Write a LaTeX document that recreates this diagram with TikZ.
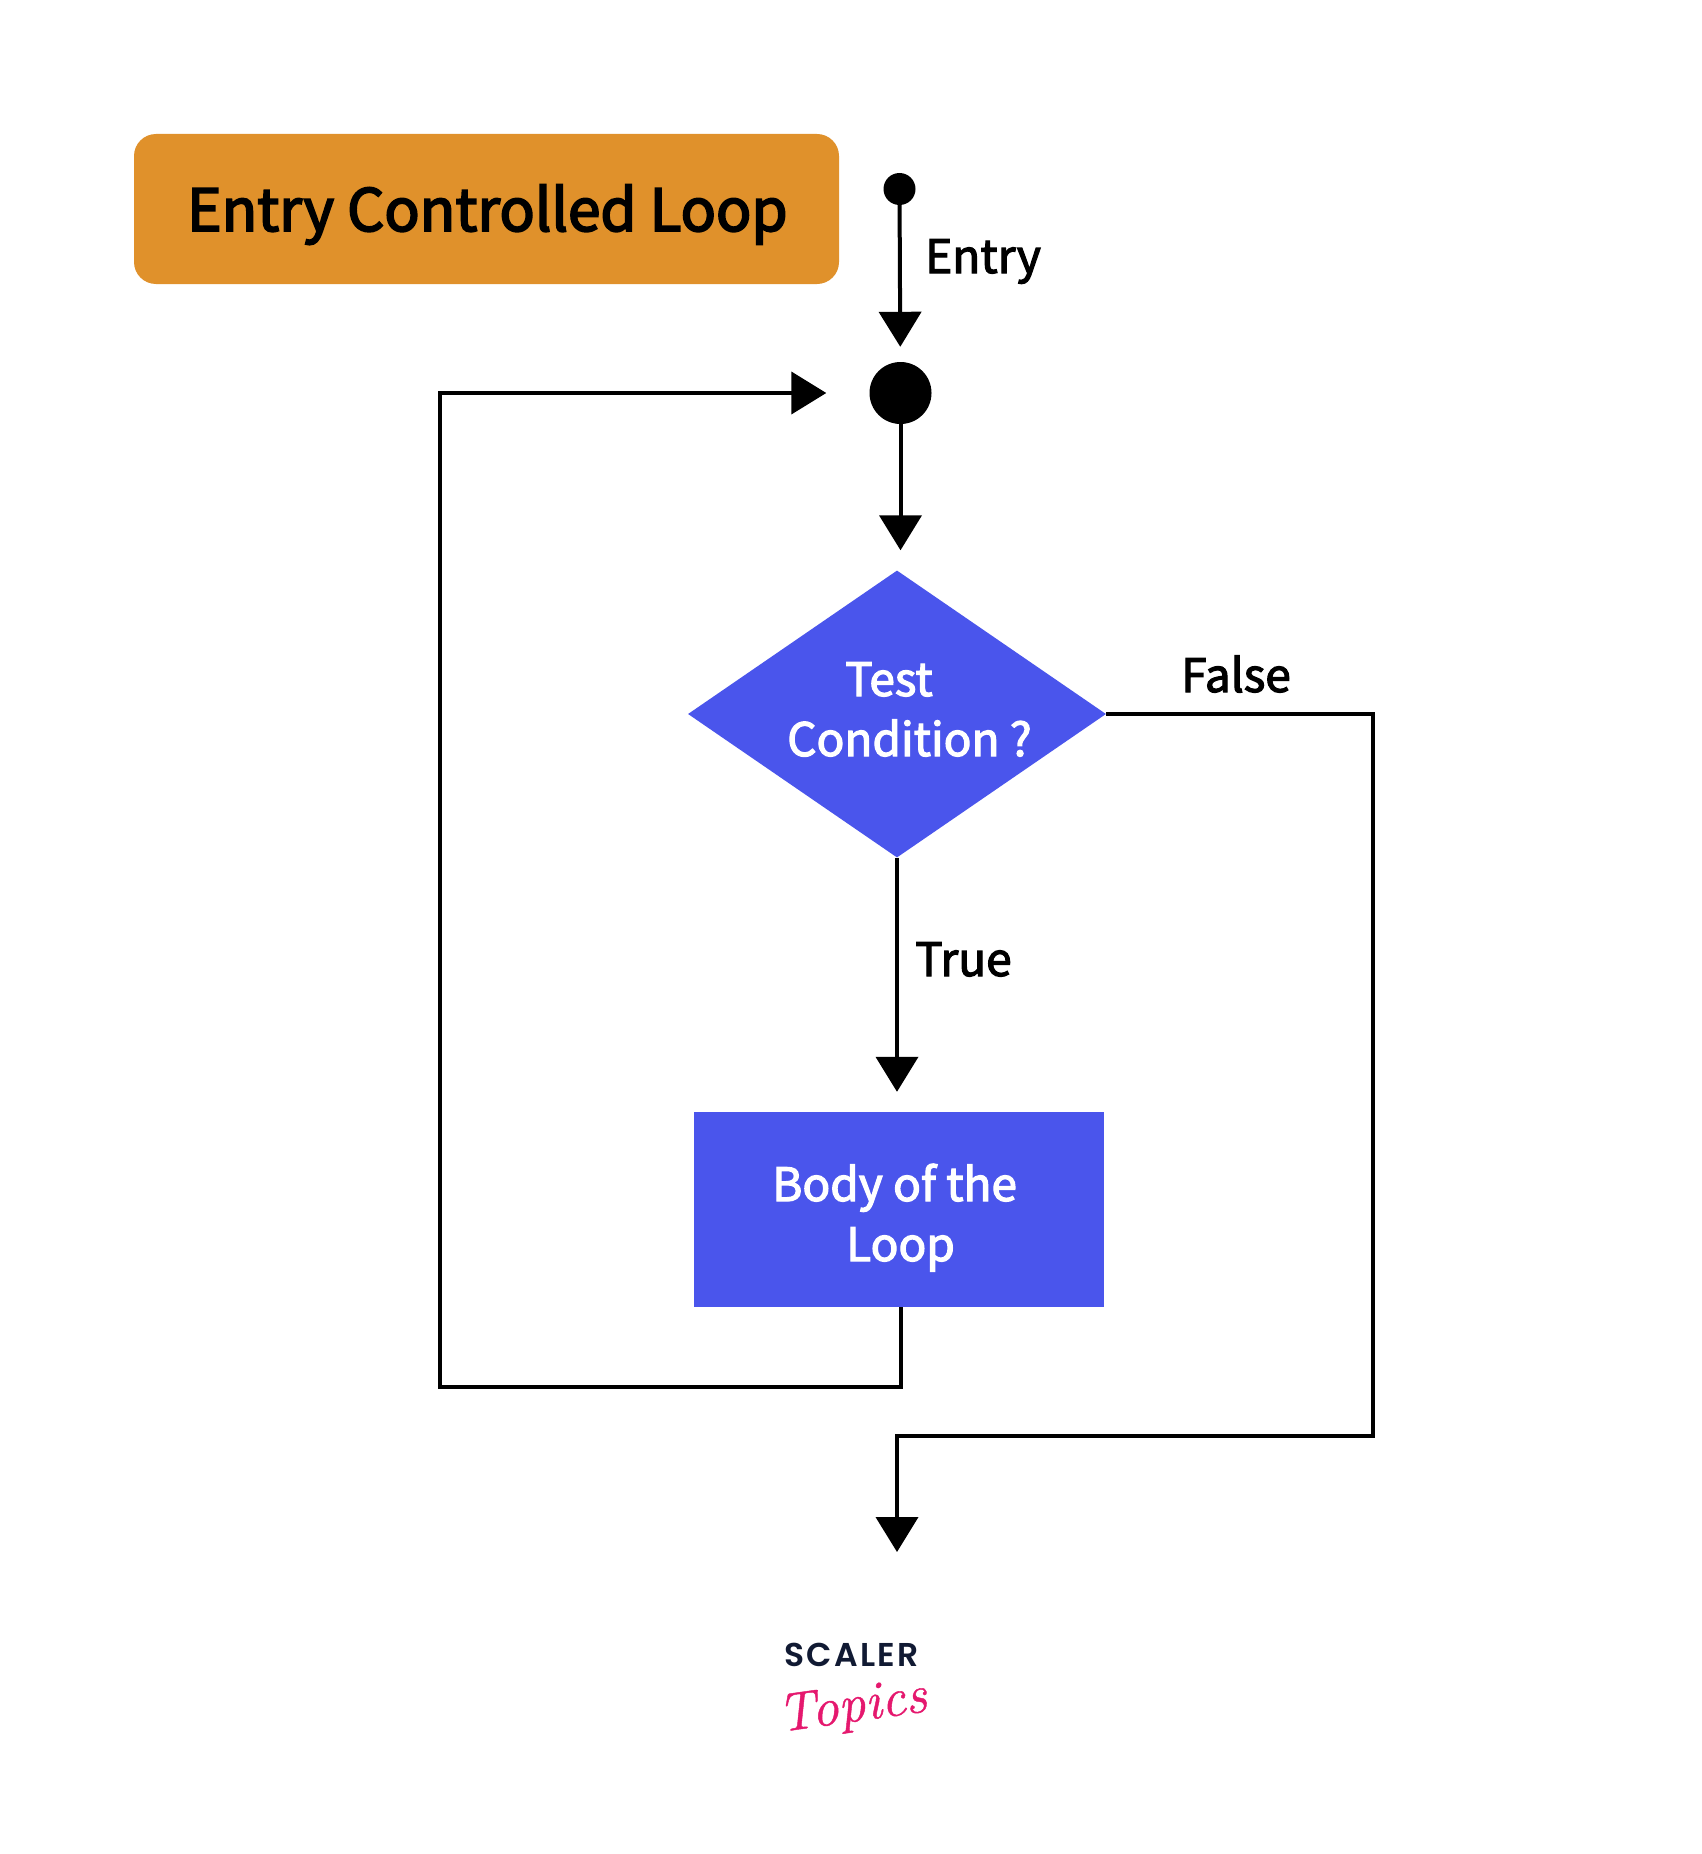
\documentclass[tikz,border=0pt]{standalone}
\usepackage{fontspec}
\usetikzlibrary{shapes.geometric,arrows.meta}
\setmainfont{Noto Sans CJK SC}[FakeBold=2.6]
\newfontfamily\titlefont{Noto Sans CJK SC}[FakeBold=3.2]
\newfontfamily\logofont{Poppins}[BoldFont=Poppins SemiBold,LetterSpace=7]
\newfontfamily\handfont{Latin Modern Roman}[FakeBold=0.8,ItalicFeatures={FakeBold=0.8}]
\definecolor{boxorange}{HTML}{E0912B}
\definecolor{flowblue}{HTML}{4A55EC}
\definecolor{logonavy}{HTML}{111A33}
\definecolor{logopink}{HTML}{E5186E}
\tikzset{
  conn/.style={line width=4pt,draw=black},
  arrowed/.style={conn,line join=miter,-{Triangle[length=35pt,width=42pt]}},
  dot/.style={circle,fill=black,inner sep=0pt},
  lbl/.style={anchor=base west,inner sep=0pt,font=\fontsize{46}{46}\selectfont},
  wlbl/.style={lbl,text=white},
}
\begin{document}
\begin{tikzpicture}[x=1pt,y=-1pt]
\useasboundingbox (0,0) rectangle (1701,1854);
\fill[white] (0,0) rectangle (1701,1854);
\node[draw=none,fill=boxorange,rounded corners=22pt,minimum width=705pt,minimum height=150pt,inner sep=0pt] (title) at (486.5,209) {};
\node[anchor=base west,inner sep=0pt,font=\titlefont\fontsize{58.4}{60}\selectfont] (titletext) at (187,231) {Entry Controlled Loop};
\node[dot,minimum size=32pt] (d1) at (899.5,189) {};
\node[dot,minimum size=62pt] (d2) at (900.5,393) {};
\node[diamond,fill=flowblue,inner sep=0pt,shape aspect=1.456,minimum width=418pt,minimum height=287pt] (test) at (897,714) {};
\node[fill=flowblue,inner sep=0pt,minimum width=410pt,minimum height=195pt] (body) at (899,1209.5) {};
\node[wlbl] (t1) at (845,696) {Test};
\node[wlbl] (t2) at (787,756) {Condition ?};
\node[wlbl] (b1) at (772,1201) {Body of the};
\node[wlbl] (b2) at (846,1261) {Loop};
\node[lbl] (entry) at (925,273) {Entry};
\node[lbl] (false) at (1181,692) {False};
\node[lbl] (true) at (915,976) {True};
\coordinate (fr) at (1373,714);
\coordinate (frd) at (1373,1436);
\coordinate (exit) at (897,1552);
\coordinate (la) at (900.5,1387);
\coordinate (lb) at (440,1387);
\coordinate (lc) at (440,393);
\draw[arrowed,shorten >=15pt] (d1) -- (d2);
\draw[arrowed,shorten >=20pt] (d2) -- (d2 |- test.north);
\draw[arrowed,shorten >=20pt] (test.south) -- (test.south |- body.north);
\draw[arrowed,shorten >=43pt] (body.south -| la) -- (la) -- (lb) -- (lc) -- (d2.west);
\draw[arrowed] (test.east) -- (fr) -- (frd) -- (frd -| exit) -- (exit);
\node[anchor=base west,inner sep=0pt,text=logonavy,font=\logofont\bfseries\fontsize{33}{33}\selectfont] (scaler) at (784,1666) {SCALER};
\node[anchor=base west,inner sep=0pt,text=logopink,rotate=8,font=\handfont\itshape\fontsize{54}{54}\selectfont] (topics) at (780,1732) {Topics};
\end{tikzpicture}
\end{document}
